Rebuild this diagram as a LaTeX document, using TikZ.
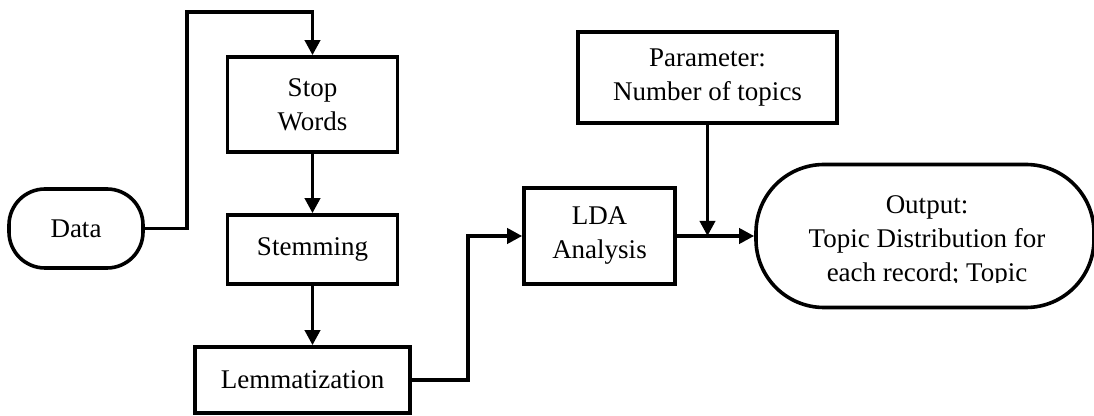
\documentclass[tikz,border=0pt]{standalone}
\usepackage{fontspec}
\setmainfont{Liberation Serif}
\usetikzlibrary{arrows.meta}
\begin{document}
\begin{tikzpicture}[x=0.5pt,y=-0.5pt,line width=1.8pt,
  txt/.style={align=center,font=\fontsize{13.5}{17}\selectfont,inner sep=0pt},
  box/.style={txt,draw,rectangle},
  arr/.style={-{Triangle[length=7.5pt,width=7.5pt]}}]
\useasboundingbox (0,0) rectangle (1094,416);
\node[box,rounded corners=18pt,minimum width=67pt,minimum height=39.5pt] (data) at (76,228.5) {Data};
\node[box,minimum width=85pt,minimum height=47.5pt] (stop) at (312.5,104.5) {Stop\\Words};
\node[box,minimum width=85pt,minimum height=34.5pt] (stem) at (312.5,249.5) {Stemming};
\node[box,minimum width=107.5pt,minimum height=33pt] (lemma) at (302.5,380) {Lemmatization};
\node[box,minimum width=75.5pt,minimum height=48pt] (lda) at (599.5,236) {LDA\\Analysis};
\node[box,minimum width=129.5pt,minimum height=45.5pt] (param) at (707.5,77.5) {Parameter:\\Number of topics};
\node[box,rounded corners=34pt,minimum width=169pt,minimum height=71.5pt] (out) at (925,236) {};
\begin{scope}
  \clip (756,150) rectangle (1094,283);
  \node[txt] (outtext) at (927,241.5) {Output:\\Topic Distribution for\\each record; Topic};
\end{scope}
\coordinate (top) at (312.5,12);
\coordinate (j) at (param.south |- lda.east);
\draw[arr] (data.east) -- ++(42,0) |- (top) -- (stop.north);
\draw[arr] (stop.south) -- (stem.north);
\draw[arr] (stem.south) -- (stem.south |- lemma.north);
\draw[arr] (lemma.east) -- ++(56,0) |- (lda.west);
\draw[arr] (lda.east) -- (out.west);
\draw[arr] (param.south) -- (j);
\end{tikzpicture}
\end{document}
